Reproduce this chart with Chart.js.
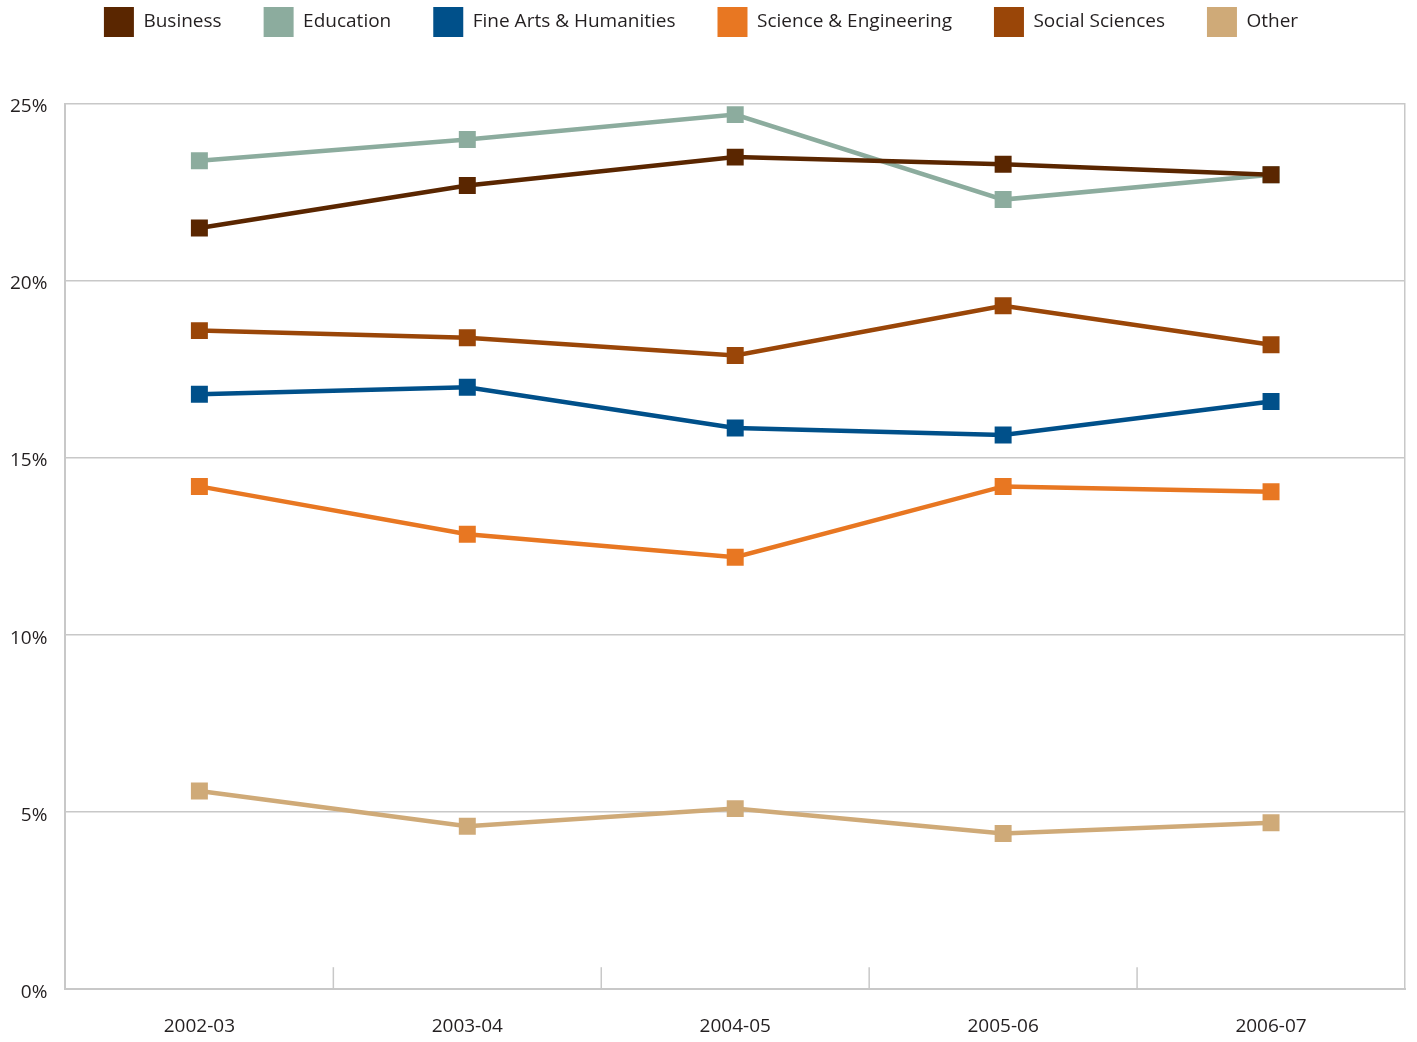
<!DOCTYPE html>
<html>
<head>
<meta charset="utf-8">
<script src="https://cdn.jsdelivr.net/npm/chart.js@4"></script>
<style>
  html, body { margin: 0; padding: 0; background: #fff; }
  #wrap { width: 1417px; height: 1042px; }
</style>
</head>
<body>
<div id="wrap"><canvas id="lineChart"></canvas></div>
<script>
// 資料
const years = ['2002-03', '2003-04', '2004-05', '2005-06', '2006-07'];
const business = [21.5, 22.7, 23.5, 23.3, 23.0];
const education = [23.4, 24.0, 24.7, 22.3, 23.0];
const fineArts = [16.8, 17.0, 15.85, 15.65, 16.6];
const science = [14.2, 12.85, 12.2, 14.2, 14.05];
const socialSci = [18.6, 18.4, 17.9, 19.3, 18.2];
const other = [5.6, 4.6, 5.1, 4.4, 4.7];
const yTicks = [0, 5, 10, 15, 20, 25];

const makeSet = (label, data, color) => ({
  label: label,
  data: data,
  borderColor: color,
  backgroundColor: color,
  borderWidth: 4.5,
  pointStyle: 'rect',
  pointRadius: 12,
  pointHoverRadius: 12,
  pointBorderWidth: 0,
  tension: 0
});

// 圖例高度固定，讓圖表區從 y=104 開始
const legendHeight = {
  id: 'legendHeight',
  beforeInit(chart) {
    const fit = chart.legend.fit;
    chart.legend.fit = function () {
      fit.call(this);
      this.height = 139;
    };
  }
};

// 底部的短刻度線（畫在類別之間）
const innerTicks = {
  id: 'innerTicks',
  afterDatasetsDraw(chart) {
    const x = chart.scales.x, area = chart.chartArea, ctx = chart.ctx;
    ctx.save();
    ctx.strokeStyle = '#c8c8c8';
    ctx.lineWidth = 1.5;
    for (let i = 0; i < years.length - 1; i++) {
      const px = (x.getPixelForValue(i) + x.getPixelForValue(i + 1)) / 2;
      ctx.beginPath();
      ctx.moveTo(px, area.bottom);
      ctx.lineTo(px, area.bottom - 22);
      ctx.stroke();
    }
    ctx.restore();
  }
};

new Chart(document.getElementById('lineChart'), {
  type: 'line',
  data: {
    labels: years,
    datasets: [
      makeSet('Business', business, '#5a2600'),
      makeSet('Education', education, '#8cac9e'),
      makeSet('Fine Arts & Humanities', fineArts, '#00508a'),
      makeSet('Science & Engineering', science, '#e87722'),
      makeSet('Social Sciences', socialSci, '#9a4608'),
      makeSet('Other', other, '#cfaa78')
    ]
  },
  options: {
    responsive: true,
    maintainAspectRatio: false,
    animation: false,
    layout: { padding: { top: -35, right: 7, left: -8, bottom: -22 } },
    plugins: {
      tooltip: { enabled: false },
      legend: {
        position: 'top',
        labels: {
          boxWidth: 30,
          boxHeight: 30,
          padding: 42,
          color: '#231f20',
          font: { family: 'Open Sans', size: 19 },
          generateLabels(chart) {
            return chart.data.datasets.map((ds, i) => ({
              text: ds.label,
              fillStyle: ds.backgroundColor,
              strokeStyle: ds.backgroundColor,
              lineWidth: 0,
              datasetIndex: i,
              fontColor: '#231f20'
            }));
          }
        }
      }
    },
    scales: {
      x: {
        offset: true,
        grid: { display: false, drawTicks: false },
        border: { display: true, color: '#c8c8c8', width: 2 },
        ticks: { color: '#231f20', padding: 26, font: { family: 'Open Sans', size: 19 } }
      },
      y: {
        min: 0,
        max: 25,
        afterBuildTicks(scale) { scale.ticks = yTicks.map(v => ({ value: v })); },
        grid: { color: '#c8c8c8', lineWidth: 1.5, drawTicks: false },
        border: { display: true, color: '#c8c8c8', width: 2 },
        ticks: {
          color: '#231f20',
          padding: 18,
          labelOffset: 3,
          font: { family: 'Open Sans', size: 19 },
          callback: v => v + '%'
        }
      },
      y2: {
        position: 'right',
        min: 0,
        max: 25,
        afterFit(scale) { scale.width = 0; },
        grid: { display: false, drawTicks: false },
        border: { display: true, color: '#c8c8c8', width: 1.5 },
        ticks: { display: false }
      }
    }
  },
  plugins: [legendHeight, innerTicks]
});
</script>
</body>
</html>
